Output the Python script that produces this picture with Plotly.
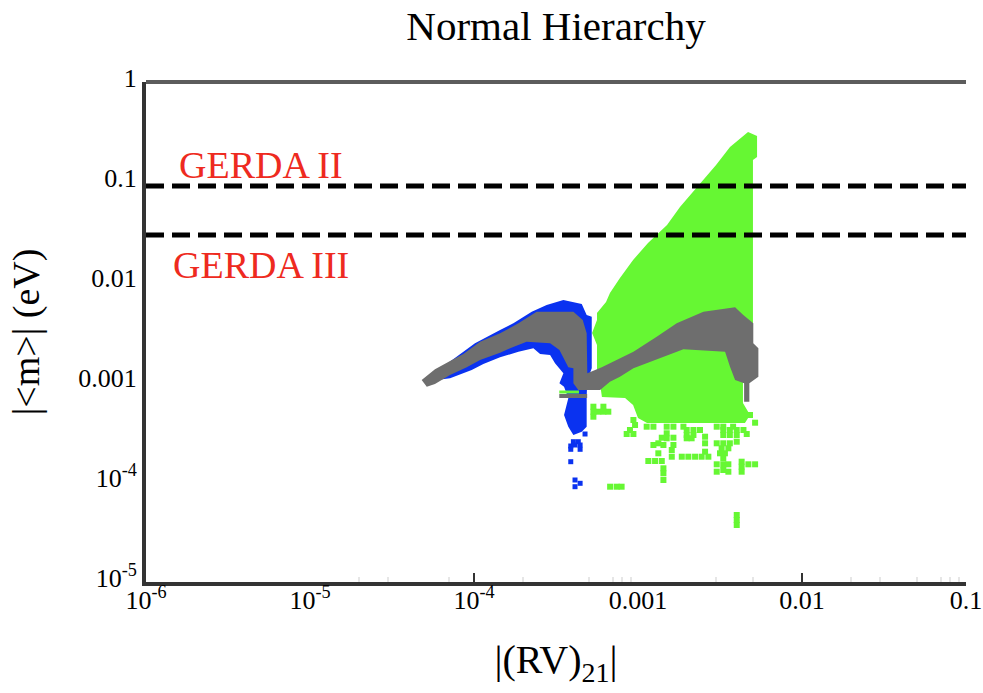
import plotly.graph_objects as go

# log10 coordinates
green_lx = [-2.329,-2.274,-2.274,-2.299,-2.299,-2.360,-2.360,-2.317,-2.348,-2.945,-3.0,-3.03,-3.079,-3.22,-3.232,-3.25,-3.25,-3.28,-3.25,-3.25,-3.195,-3.171,-3.11,-3.03,-2.939,-2.823,-2.744,-2.604,-2.524,-2.439]
green_ly = [-0.5,-0.54,-0.75,-0.78,-2.8,-2.98,-3.21,-3.33,-3.41,-3.41,-3.36,-3.23,-3.16,-3.15,-3.01,-2.91,-2.63,-2.51,-2.38,-2.31,-2.20,-2.11,-1.96,-1.78,-1.61,-1.43,-1.25,-0.98,-0.83,-0.65]

green_pts_lx = [-3.272,-3.242,-3.211,-3.181,-3.211,-3.272,-3.272,-3.028,-3.018,-3.049,-3.069,-3.028,-2.825,-2.825,-2.855,-2.784,-2.876,-2.906,-2.845,-2.784,-2.876,-2.794,-2.794,-2.703,-2.662,-2.591,-2.591,-2.591,-2.733,-2.693,-2.652,-2.612,-2.571,-2.48,-2.44,-2.398,-2.337,-2.52,-2.48,-2.44,-2.398,-2.49,-2.449,-2.5,-2.47,-2.48,-2.48,-2.52,-2.449,-2.48,-2.52,-2.449,-2.368,-2.368,-2.368,-2.327,-2.286,-2.937,-2.896,-2.855,-2.845,-2.845,-2.845,-3.17,-3.13,-3.1,-2.398,-2.398,-2.398,-2.286,-2.317,
                -2.703,-2.662,-2.622,-2.48,-2.44,-2.398,-2.357,-2.703,-2.673,-2.825,-2.784,-2.723,-2.947,-2.906,-2.52,-2.48,-2.42]
green_pts_ly = [-3.297,-3.297,-3.297,-3.297,-3.247,-3.347,-3.247,-3.38,-3.43,-3.48,-3.52,-3.52,-3.513,-3.563,-3.557,-3.557,-3.613,-3.63,-3.63,-3.63,-3.713,-3.68,-3.747,-3.53,-3.53,-3.547,-3.613,-3.697,-3.747,-3.747,-3.747,-3.747,-3.747,-3.53,-3.53,-3.53,-3.52,-3.613,-3.613,-3.613,-3.597,-3.663,-3.663,-3.713,-3.713,-3.763,-3.823,-3.823,-3.823,-3.88,-3.897,-3.897,-3.797,-3.847,-3.897,-3.823,-3.823,-3.79,-3.79,-3.79,-3.863,-3.913,-3.98,-4.047,-4.047,-4.047,-4.33,-4.38,-4.43,-3.407,-3.33,
                -3.48,-3.48,-3.48,-3.48,-3.48,-3.48,-3.48,-3.563,-3.563,-3.447,-3.447,-3.447,-3.447,-3.447,-3.447,-3.447,-3.447]

blue_lx = [-4.258,-4.146,-3.994,-3.841,-3.76,-3.648,-3.557,-3.455,-3.343,-3.313,-3.282,-3.282,-3.309,-3.313,-3.313,-3.313,-3.343,-3.394,-3.425,-3.451,-3.425,-3.451,-3.479,-3.455,-3.506,-3.536,-3.597,-3.638,-3.729,-3.841,-3.943,-4.014,-4.146,-4.227]
blue_ly = [-2.93,-2.797,-2.613,-2.48,-2.413,-2.297,-2.23,-2.18,-2.22,-2.33,-2.347,-2.863,-2.98,-3.147,-3.363,-3.447,-3.497,-3.53,-3.447,-3.33,-3.163,-3.047,-3.013,-2.913,-2.813,-2.73,-2.72,-2.663,-2.697,-2.753,-2.82,-2.88,-2.963,-2.98]

blue_pts_lx = [-3.394,-3.364,-3.384,-3.353,-3.41,-3.353,-3.41,-3.323,-3.41,-3.384,-3.353,-3.384]
blue_pts_ly = [-3.597,-3.597,-3.63,-3.63,-3.64,-3.673,-3.673,-3.52,-3.797,-3.98,-4.013,-4.047]

gray_lx = [-4.319,-4.238,-4.146,-4.065,-3.963,-3.841,-3.729,-3.618,-3.394,-3.337,-3.313,-3.309,-3.221,-3.13,-3.028,-2.886,-2.764,-2.601,-2.408,-2.358,-2.297,-2.297,-2.266,-2.266,-2.321,-2.321,-2.353,-2.353,-2.408,-2.439,-2.469,-2.723,-2.855,-3.028,-3.11,-3.171,-3.231,-3.364,-3.394,-3.394,-3.425,-3.479,-3.536,-3.679,-3.78,-3.841,-3.963,-4.044,-4.146,-4.238,-4.288]
gray_ly = [-2.98,-2.873,-2.79,-2.72,-2.597,-2.513,-2.413,-2.297,-2.297,-2.38,-2.513,-2.913,-2.853,-2.78,-2.697,-2.547,-2.413,-2.297,-2.253,-2.33,-2.413,-2.613,-2.663,-2.947,-3.013,-3.197,-3.197,-3.013,-2.98,-2.847,-2.697,-2.673,-2.753,-2.863,-2.947,-2.997,-3.08,-3.08,-3.013,-2.863,-2.853,-2.68,-2.613,-2.597,-2.663,-2.707,-2.78,-2.853,-2.93,-3.02,-3.047]

gray_strip_lx = [-3.48, -3.31]
gray_strip_ly = [-3.14, -3.14]
green_strip_lx = [-3.48, -3.36]
green_strip_ly = [-3.10, -3.10]

limit_values = [0.0912, 0.0295]
limit_labels = ["GERDA II", "GERDA III"]
limit_label_lx = [-5.81, -5.85]
limit_label_ly = [-0.83, -1.83]

x_ticks = [1e-6, 1e-5, 1e-4, 0.001, 0.01, 0.1]
x_labels = ["10<sup>-6</sup>", "10<sup>-5</sup>", "10<sup>-4</sup>", "0.001", "0.01", "0.1"]
x_dark_ticks = [1e-4, 0.01]
x_minor = [2e-5, 3e-5, 7e-5, 2e-4, 5e-4, 7e-4, 8e-4, 9e-4, 3e-3, 5e-3, 2e-2, 3e-2, 5e-2, 7e-2, 8e-2, 9e-2]
y_ticks = [1, 0.1, 0.01, 0.001, 1e-4, 1e-5]
y_labels = ["1", "0.1", "0.01", "0.001", "10<sup>-4</sup>", "10<sup>-5</sup>"]

GREEN, BLUE, GRAY, RED = "#66f733", "#0a32f0", "#6e6e6e", "#ee2a20"
FONT = "Liberation Serif"

def p(v):
    return [10 ** a for a in v]

fig = go.Figure()
fig.add_trace(go.Scatter(x=p(green_lx), y=p(green_ly), mode="lines", fill="toself", fillcolor=GREEN, line=dict(color=GREEN, width=0)))
fig.add_trace(go.Scatter(x=p(green_pts_lx), y=p(green_pts_ly), mode="markers", marker=dict(symbol="square", size=6, color=GREEN, line=dict(width=0))))
fig.add_trace(go.Scatter(x=p(blue_lx), y=p(blue_ly), mode="lines", fill="toself", fillcolor=BLUE, line=dict(color=BLUE, width=0)))
fig.add_trace(go.Scatter(x=p(blue_pts_lx), y=p(blue_pts_ly), mode="markers", marker=dict(symbol="square", size=5, color=BLUE, line=dict(width=0))))
fig.add_trace(go.Scatter(x=p(green_strip_lx), y=p(green_strip_ly), mode="lines", line=dict(color=GREEN, width=3)))
fig.add_trace(go.Scatter(x=p(gray_lx), y=p(gray_ly), mode="lines", fill="toself", fillcolor=GRAY, line=dict(color=GRAY, width=0)))
fig.add_trace(go.Scatter(x=p(gray_strip_lx), y=p(gray_strip_ly), mode="lines", line=dict(color=GRAY, width=4)))
for v in limit_values:
    fig.add_trace(go.Scatter(x=[1e-6, 0.1], y=[v, v], mode="lines", line=dict(color="black", width=5, dash="18px,8px")))
for t, lx, ly in zip(limit_labels, limit_label_lx, limit_label_ly):
    fig.add_annotation(x=lx, y=ly, xref="x", yref="y", text=t, showarrow=False, xanchor="left",
                       font=dict(family=FONT, size=38, color=RED))

shapes = [dict(type="line", xref="paper", yref="paper", x0=0, x1=1, y0=1, y1=1,
               line=dict(color="#5c5c5c", width=4))]
for v in x_dark_ticks:
    shapes.append(dict(type="line", xref="x", yref="paper", x0=v, x1=v, y0=0, y1=0.018,
                       line=dict(color="#333333", width=2)))

fig.update_layout(
    width=983, height=693, showlegend=False, plot_bgcolor="white", paper_bgcolor="white",
    margin=dict(l=146, r=17, t=82, b=111),
    font=dict(family=FONT, color="black"),
    title=dict(text="Normal Hierarchy", xref="paper", x=0.5, xanchor="center", y=1-26/693, yanchor="middle",
               font=dict(family=FONT, size=41, color="black")),
    shapes=shapes,
)
fig.update_xaxes(type="log", range=[-6, -1], tickvals=x_ticks, ticktext=x_labels, tickfont=dict(size=26),
                 showgrid=False, zeroline=False, showline=True, linecolor="#333333", linewidth=4,
                 ticks="", ticklabelstandoff=-8, automargin=False,
                 minor=dict(ticks="inside", ticklen=5, tickwidth=2, tickcolor="#e6e6e6", tickvals=x_minor),
                 title=dict(text="|(RV)<sub>21</sub>|", font=dict(size=40), standoff=32))
fig.update_yaxes(type="log", range=[-5, 0], tickvals=y_ticks, ticktext=y_labels, tickfont=dict(size=26),
                 showgrid=False, zeroline=False, showline=True, linecolor="#333333", linewidth=4,
                 ticks="", ticklabelshift=-4, automargin=False,
                 title=dict(text="|&lt;m&gt;| (eV)", font=dict(size=38), standoff=28))

fig.write_html("out.html", config={"displayModeBar": False},
               post_script="document.body.style.margin='0';document.body.style.overflow='hidden';")
